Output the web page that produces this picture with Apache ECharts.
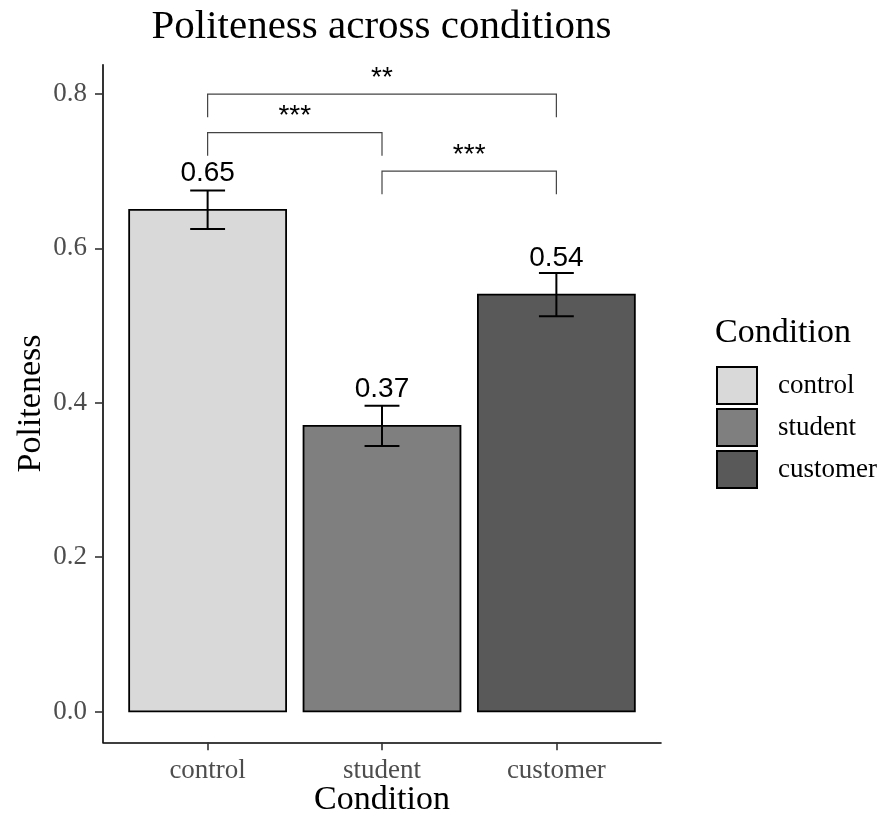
<!DOCTYPE html>
<html>
<head>
<meta charset="utf-8">
<script src="https://cdn.jsdelivr.net/npm/echarts@6/dist/echarts.min.js"></script>
<style>
  html, body { margin: 0; padding: 0; background: #fff; }
  #chart { width: 883px; height: 819px; }
</style>
</head>
<body>
<div id="chart"></div>
<script>
// Mean politeness per condition with standard errors
const categories = ['control', 'student', 'customer'];
const means = [0.65, 0.37, 0.54];
const ses = [0.025, 0.026, 0.028];
const fills = ['#D9D9D9', '#7F7F7F', '#595959'];
const yTicks = [0, 0.2, 0.4, 0.6, 0.8];

// Pairwise comparisons: category indices, bracket height, significance stars
const comparePairs = [[0, 2], [0, 1], [1, 2]];
const bracketLevels = [0.80, 0.75, 0.70];
const bracketStars = ['**', '***', '***'];

const SERIF = '"Liberation Serif", "Times New Roman", serif';
const SANS = '"Liberation Sans", Arial, sans-serif';
const BAR_W = 0.9;
const CAP_W = 0.2;
const TIP = 0.03;
const LABEL_LIFT = 0.047;
const STAR_LIFT = 0.021;

const chart = echarts.init(document.getElementById('chart'), null, { renderer: 'canvas' });

function renderBar(params, api) {
  const x = api.value(0), m = api.value(1), se = api.value(2);
  const base = api.coord([x, 0]);
  const top = api.coord([x, m]);
  const hi = api.coord([x, m + se]);
  const lo = api.coord([x, m - se]);
  const w = api.size([BAR_W, 0])[0];
  const cw = api.size([CAP_W, 0])[0];
  const lab = api.coord([x, m + LABEL_LIFT]);
  const lineStyle = { stroke: '#000', lineWidth: 2 };
  return {
    type: 'group',
    children: [
      { type: 'rect', shape: { x: base[0] - w / 2, y: top[1], width: w, height: base[1] - top[1] },
        style: { fill: api.visual('color'), stroke: '#000', lineWidth: 1.8 } },
      { type: 'line', shape: { x1: hi[0], y1: hi[1], x2: lo[0], y2: lo[1] }, style: lineStyle },
      { type: 'line', shape: { x1: hi[0] - cw / 2, y1: hi[1], x2: hi[0] + cw / 2, y2: hi[1] }, style: lineStyle },
      { type: 'line', shape: { x1: lo[0] - cw / 2, y1: lo[1], x2: lo[0] + cw / 2, y2: lo[1] }, style: lineStyle },
      { type: 'text', style: { text: m.toFixed(2), x: lab[0], y: lab[1], align: 'center', verticalAlign: 'middle',
        font: '28px ' + SANS, fill: '#000' } }
    ]
  };
}

function renderBracket(params, api) {
  const x1 = api.value(0), x2 = api.value(1), y = api.value(2);
  const i = params.dataIndex;
  const a = api.coord([x1, y - TIP]);
  const b = api.coord([x1, y]);
  const c = api.coord([x2, y]);
  const d = api.coord([x2, y - TIP]);
  const s = api.coord([(x1 + x2) / 2, y + STAR_LIFT]);
  return {
    type: 'group',
    children: [
      { type: 'polyline', shape: { points: [a, b, c, d] }, style: { stroke: '#444', lineWidth: 1.2, fill: null } },
      { type: 'text', style: { text: bracketStars[i], x: s[0], y: s[1], align: 'center', verticalAlign: 'middle',
        font: '28px ' + SANS, fill: '#000' } }
    ]
  };
}

const barSeries = categories.map((name, i) => ({
  name: name,
  type: 'custom',
  renderItem: renderBar,
  itemStyle: { color: fills[i], borderColor: '#000', borderWidth: 1.8 },
  encode: { x: 0, y: 1 },
  data: [[i + 1, means[i], ses[i]]],
  clip: false,
  silent: true,
  z: 2
}));

const bracketSeries = {
  name: 'comparisons',
  type: 'custom',
  renderItem: renderBracket,
  encode: { x: [0, 1], y: 2 },
  data: comparePairs.map((p, k) => [p[0] + 1, p[1] + 1, bracketLevels[k]]),
  clip: false,
  silent: true,
  z: 3
};

chart.setOption({
  animation: false,
  backgroundColor: '#fff',
  grid: { left: 103, right: 222, top: 64.7, bottom: 76.7, containLabel: false },
  xAxis: {
    type: 'value', min: 0.4, max: 3.6,
    axisLine: { show: true, onZero: false, lineStyle: { color: '#000', width: 1.6 } },
    axisTick: { show: true, customValues: [1, 2, 3], length: 8, lineStyle: { color: '#333', width: 1.6 } },
    axisLabel: { show: true, customValues: [1, 2, 3], formatter: v => categories[Math.round(v) - 1] || '',
      fontFamily: SERIF, fontSize: 27, color: '#4D4D4D', margin: 15 },
    splitLine: { show: false }
  },
  yAxis: {
    type: 'value', min: -0.04, max: 0.838,
    axisLine: { show: true, onZero: false, lineStyle: { color: '#000', width: 1.6 } },
    axisTick: { show: true, customValues: yTicks, length: 8, lineStyle: { color: '#333', width: 1.6 } },
    axisLabel: { show: true, customValues: yTicks, formatter: v => v.toFixed(1),
      fontFamily: SERIF, fontSize: 27, color: '#4D4D4D', margin: 16 },
    splitLine: { show: false }
  },
  legend: {
    data: categories,
    orient: 'vertical',
    left: 716, top: 366,
    padding: 0,
    itemWidth: 40, itemHeight: 37, itemGap: 3,
    icon: 'rect',
    itemStyle: { borderColor: '#000', borderWidth: 2 },
    textStyle: { fontFamily: SERIF, fontSize: 27, lineHeight: 27, color: '#000', padding: [0, 0, 0, 16] },
    selectedMode: false
  },
  graphic: [
    { type: 'text', x: 381.5, y: 27, style: { text: 'Politeness across conditions', font: '41px ' + SERIF,
      fill: '#000', align: 'center', verticalAlign: 'middle' } },
    { type: 'text', x: 382, y: 800, style: { text: 'Condition', font: '34px ' + SERIF,
      fill: '#000', align: 'center', verticalAlign: 'middle' } },
    { type: 'text', x: 31.5, y: 403.5, rotation: Math.PI / 2, style: { text: 'Politeness', font: '34px ' + SERIF,
      fill: '#000', align: 'center', verticalAlign: 'middle' } },
    { type: 'text', x: 715, y: 333.5, style: { text: 'Condition', font: '34px ' + SERIF,
      fill: '#000', align: 'left', verticalAlign: 'middle' } }
  ],
  series: barSeries.concat([bracketSeries])
});
</script>
</body>
</html>
